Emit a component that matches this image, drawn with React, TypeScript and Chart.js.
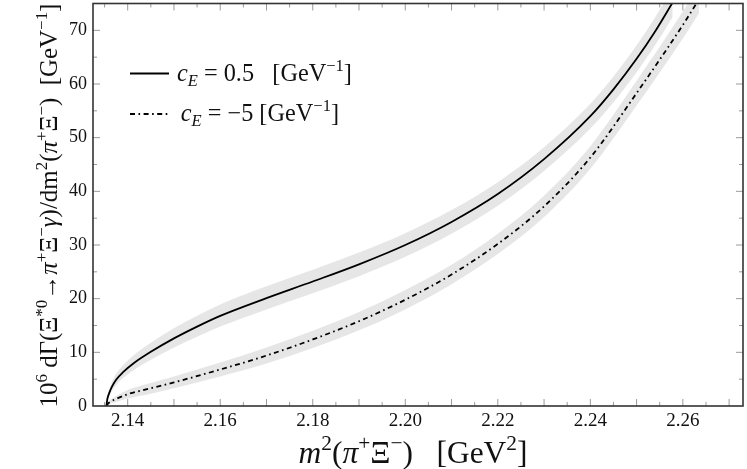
import { useEffect, useRef } from 'react';
import Chart from 'chart.js/auto';

// axis ranges and tick labels
const X_MIN = 2.1325;
const X_MAX = 2.273;
const Y_MIN = 0;
const Y_MAX = 75;
const X_TICKS = [2.14, 2.16, 2.18, 2.2, 2.22, 2.24, 2.26];
const Y_TICKS = [0, 10, 20, 30, 40, 50, 60, 70];

// c_E = 0.5 curve and its error band
const SOLID_X = [2.1354, 2.1356, 2.136, 2.1366, 2.1375, 2.139, 2.1415, 2.145, 2.15, 2.155, 2.16, 2.17, 2.18, 2.19, 2.2, 2.21, 2.22, 2.23, 2.24, 2.245, 2.25, 2.254, 2.2578];
const SOLID_Y = [0, 1.3, 2.4, 3.6, 4.9, 6.3, 8.1, 10.1, 12.6, 14.8, 16.8, 20.1, 23.2, 26.4, 30.0, 34.3, 39.5, 46.0, 54.0, 59.0, 64.7, 69.8, 75.2];
const SOLID_LO = [0, 0.9, 1.8, 2.8, 3.9, 5.2, 6.8, 8.6, 10.9, 12.9, 14.8, 18.0, 21.0, 24.2, 27.8, 32.1, 37.3, 43.8, 51.7, 56.6, 62.2, 67.2, 72.5];
const SOLID_HI = [0.2, 1.8, 3.1, 4.5, 6.0, 7.6, 9.6, 11.8, 14.5, 16.8, 18.9, 22.3, 25.4, 28.6, 32.2, 36.5, 41.7, 48.2, 56.3, 61.4, 67.2, 72.4, 77.9];

// c_E = -5 curve and its error band
const DASH_X = [2.1354, 2.1358, 2.1365, 2.138, 2.14, 2.145, 2.15, 2.16, 2.17, 2.18, 2.19, 2.2, 2.21, 2.22, 2.23, 2.24, 2.25, 2.26, 2.2635];
const DASH_Y = [0, 0.5, 0.9, 1.5, 2.2, 3.3, 4.4, 6.8, 9.4, 12.4, 15.8, 19.8, 24.5, 30.2, 37.2, 46.3, 58.3, 71.0, 75.8];
const DASH_LO = [0, 0.2, 0.5, 0.9, 1.4, 2.3, 3.3, 5.5, 7.9, 10.8, 14.1, 18.0, 22.7, 28.3, 35.2, 44.2, 56.0, 68.5, 73.2];
const DASH_HI = [0.1, 0.8, 1.3, 2.1, 3.0, 4.3, 5.5, 8.1, 10.9, 14.0, 17.5, 21.6, 26.3, 32.1, 39.2, 48.4, 60.6, 73.5, 78.4];

const SERIF = '"Liberation Serif", "DejaVu Serif", serif';
const BAND = '#e6e6e6';
const DASH_DOT = [5, 3.5, 1.6, 3.5];

const pts = (xs, ys) => xs.map((x, i) => ({ x, y: ys[i] }));

const runFont = (r, size) =>
  `${r.it ? 'italic ' : ''}${r.sup || r.sub ? size * 0.68 : size}px ${SERIF}`;

function runsWidth(ctx, runs, size) {
  return runs.reduce((w, r) => { ctx.font = runFont(r, size); return w + ctx.measureText(r.t).width; }, 0);
}

// size that makes the runs span a given width
function fitSize(ctx, runs, width) {
  return (20 * width) / runsWidth(ctx, runs, 20);
}

// draw a line of text made of runs with italic / super / subscript parts
function drawRuns(ctx, runs, x, y, size, align) {
  const total = runsWidth(ctx, runs, size);
  let cx = align === 'center' ? x - total / 2 : align === 'right' ? x - total : x;
  ctx.textAlign = 'left';
  ctx.textBaseline = 'alphabetic';
  runs.forEach(r => {
    ctx.font = runFont(r, size);
    const dy = r.sup ? -size * 0.4 : r.sub ? size * 0.22 : 0;
    ctx.fillText(r.t, cx, y + dy);
    cx += ctx.measureText(r.t).width;
  });
}

const Y_TITLE = [
  { t: '10' }, { t: '6', sup: true }, { t: ' dΓ(Ξ' }, { t: '*0', sup: true },
  { t: '→' }, { t: 'π', it: true }, { t: '+', sup: true }, { t: 'Ξ' }, { t: '−', sup: true },
  { t: 'γ', it: true }, { t: ')/dm' }, { t: '2', sup: true }, { t: '(' }, { t: 'π', it: true },
  { t: '+', sup: true }, { t: 'Ξ' }, { t: '−', sup: true }, { t: ')  [GeV' }, { t: '−1', sup: true }, { t: ']' },
];
const X_TITLE = [
  { t: 'm', it: true }, { t: '2', sup: true }, { t: '(' }, { t: 'π', it: true }, { t: '+', sup: true },
  { t: 'Ξ' }, { t: '−', sup: true }, { t: ')   [GeV' }, { t: '2', sup: true }, { t: ']' },
];
const LEGEND_1 = [
  { t: 'c', it: true }, { t: 'E', it: true, sub: true }, { t: ' = 0.5   [GeV' }, { t: '−1', sup: true }, { t: ']' },
];
const LEGEND_2 = [
  { t: 'c', it: true }, { t: 'E', it: true, sub: true }, { t: ' = −5 [GeV' }, { t: '−1', sup: true }, { t: ']' },
];

const decorations = {
  id: 'decorations',
  afterDraw(chart) {
    const { ctx, chartArea: a, scales } = chart;
    const xs = scales.x;
    const ys = scales.y;
    ctx.save();

    // inward ticks on all four sides
    ctx.strokeStyle = '#9a9a9a';
    ctx.lineWidth = 1;
    ctx.beginPath();
    for (let k = 0; k <= 28; k++) {
      const v = 2.135 + k * 0.005;
      if (v > X_MAX) break;
      const px = xs.getPixelForValue(v);
      const len = k % 2 === 1 ? 7 : 4;
      ctx.moveTo(px, a.bottom); ctx.lineTo(px, a.bottom - len);
      ctx.moveTo(px, a.top); ctx.lineTo(px, a.top + len);
    }
    for (let v = 5; v < Y_MAX; v += 5) {
      const py = ys.getPixelForValue(v);
      const len = v % 10 === 0 ? 7 : 4;
      ctx.moveTo(a.left, py); ctx.lineTo(a.left + len, py);
      ctx.moveTo(a.right, py); ctx.lineTo(a.right - len, py);
    }
    ctx.stroke();

    // frame
    ctx.strokeStyle = '#333';
    ctx.lineWidth = 1.6;
    ctx.strokeRect(a.left, a.top, a.right - a.left, a.bottom - a.top);

    ctx.fillStyle = '#111';
    // y title
    ctx.save();
    ctx.translate(57, 205.5);
    ctx.rotate(-Math.PI / 2);
    drawRuns(ctx, Y_TITLE, 0, 0, fitSize(ctx, Y_TITLE, 404), 'center');
    ctx.restore();

    // x title
    drawRuns(ctx, X_TITLE, 413, 463, fitSize(ctx, X_TITLE, 229), 'center');

    // legend
    ctx.strokeStyle = '#000';
    ctx.lineWidth = 1.8;
    ctx.beginPath();
    ctx.moveTo(130, 73.5); ctx.lineTo(169, 73.5);
    ctx.stroke();
    ctx.setLineDash(DASH_DOT);
    ctx.beginPath();
    ctx.moveTo(130, 114); ctx.lineTo(169, 114);
    ctx.stroke();
    ctx.setLineDash([]);
    const legendSize = fitSize(ctx, LEGEND_1, 175);
    drawRuns(ctx, LEGEND_1, 177, 80.5, legendSize, 'left');
    drawRuns(ctx, LEGEND_2, 339, 121, legendSize, 'right');

    ctx.restore();
  },
};

const App = () => {
  const canvasRef = useRef(null);
  const chartRef = useRef(null);

  useEffect(() => {
    document.body.style.margin = '0';
    if (chartRef.current) chartRef.current.destroy();

    const band = (xs, ys, fill) => ({
      data: pts(xs, ys),
      borderWidth: 0,
      borderColor: BAND,
      backgroundColor: BAND,
      pointRadius: 0,
      fill,
      cubicInterpolationMode: 'monotone',
      order: 2,
    });

    chartRef.current = new Chart(canvasRef.current, {
      type: 'line',
      data: {
        datasets: [
          band(SOLID_X, SOLID_HI, '+1'),
          band(SOLID_X, SOLID_LO, false),
          band(DASH_X, DASH_HI, '+1'),
          band(DASH_X, DASH_LO, false),
          {
            label: 'c_E = 0.5',
            data: pts(SOLID_X, SOLID_Y),
            borderColor: '#000',
            borderWidth: 1.8,
            pointRadius: 0,
            fill: false,
            cubicInterpolationMode: 'monotone',
            order: 1,
          },
          {
            label: 'c_E = -5',
            data: pts(DASH_X, DASH_Y),
            borderColor: '#000',
            borderWidth: 1.8,
            borderDash: DASH_DOT,
            pointRadius: 0,
            fill: false,
            cubicInterpolationMode: 'monotone',
            order: 1,
          },
        ],
      },
      options: {
        animation: false,
        responsive: true,
        maintainAspectRatio: false,
        layout: { padding: { top: 3.5, right: 4, left: 0, bottom: 0 } },
        scales: {
          x: {
            type: 'linear',
            min: X_MIN,
            max: X_MAX,
            afterBuildTicks: s => { s.ticks = X_TICKS.map(value => ({ value })); },
            afterFit: s => {
              s.height = 63;
              s.paddingLeft = 0;
              s.paddingRight = 0;
            },
            grid: { display: false, drawTicks: false },
            border: { display: false },
            ticks: {
              font: { family: SERIF, size: 19 },
              color: '#111',
              padding: 4,
              maxRotation: 0,
              autoSkip: false,
              callback: v => Number(v).toFixed(2),
            },
          },
          y: {
            min: Y_MIN,
            max: Y_MAX,
            afterBuildTicks: s => { s.ticks = Y_TICKS.map(value => ({ value })); },
            afterFit: s => {
              s.width = 93;
              s.paddingTop = 0;
              s.paddingBottom = 0;
            },
            grid: { display: false, drawTicks: false },
            border: { display: false },
            ticks: {
              font: { family: SERIF, size: 18 },
              color: '#111',
              padding: 6,
            },
          },
        },
        plugins: {
          legend: { display: false },
          tooltip: { enabled: false },
        },
      },
      plugins: [decorations],
    });

    return () => {
      if (chartRef.current) {
        chartRef.current.destroy();
        chartRef.current = null;
      }
    };
  }, []);

  return (
    <div style={{ width: 747, height: 469, position: 'relative', background: '#fff' }}>
      <canvas ref={canvasRef}></canvas>
    </div>
  );
};

export default App;
